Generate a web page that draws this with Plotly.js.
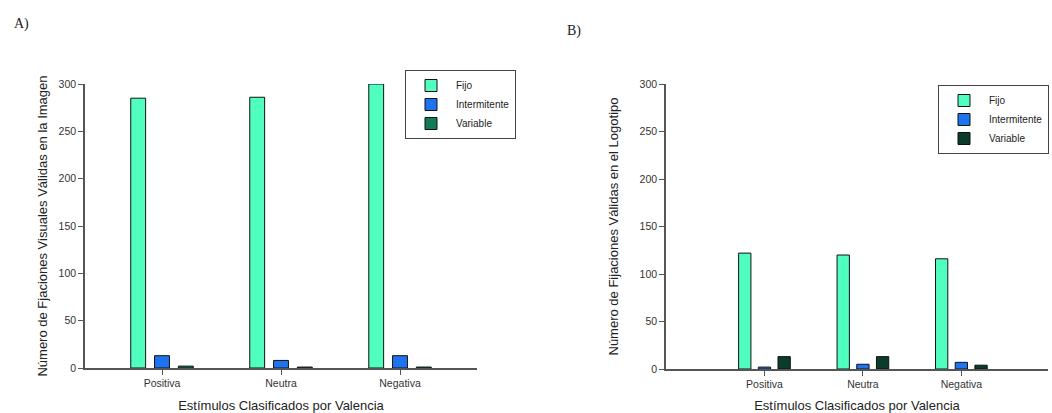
<!DOCTYPE html>
<html>
<head>
<meta charset="utf-8">
<script src="https://cdn.plot.ly/plotly-3.0.1.min.js"></script>
<style>html,body{margin:0;padding:0;background:#fff;}#chart{width:1052px;height:413px;}</style>
</head>
<body>
<div id="chart"></div>
<script>
const categories = ["Positiva", "Neutra", "Negativa"];
const seriesNames = ["Fijo", "Intermitente", "Variable"];
// Panel A: Número de Fjaciones Visuales Válidas en la Imagen
const imagenFijo = [285, 286, 300];
const imagenIntermitente = [13, 8, 13];
const imagenVariable = [2, 1, 1];
// Panel B: Número de Fijaciones Válidas en el Logotipo
const logotipoFijo = [122, 120, 116];
const logotipoIntermitente = [2, 5, 7];
const logotipoVariable = [13, 13, 4];
const yTicks = [0, 50, 100, 150, 200, 250, 300];

const font = "Arial, 'Liberation Sans', sans-serif";
const colA = ["#50FFC0", "#1E74F0", "#137A5C"];
const colB = ["#50FFC0", "#1E74F0", "#0B3B2C"];

function mk(name, y, color, xa, ya, legend) {
  return {
    type: "bar", name: name, x: categories, y: y,
    xaxis: xa, yaxis: ya, legend: legend,
    marker: {color: color, line: {color: "#111", width: 1}},
    hoverinfo: "x+y+name"
  };
}

const data = [
  mk(seriesNames[0], imagenFijo, colA[0], "x", "y", "legend"),
  mk(seriesNames[1], imagenIntermitente, colA[1], "x", "y", "legend"),
  mk(seriesNames[2], imagenVariable, colA[2], "x", "y", "legend"),
  mk(seriesNames[0], logotipoFijo, colB[0], "x2", "y2", "legend2"),
  mk(seriesNames[1], logotipoIntermitente, colB[1], "x2", "y2", "legend2"),
  mk(seriesNames[2], logotipoVariable, colB[2], "x2", "y2", "legend2")
];

const tickFont = {family: font, size: 10.5, color: "#333"};
const titleFont = {family: font, size: 13, color: "#222"};

function xax(domain, range, anchor) {
  return {
    domain: domain, range: range, anchor: anchor, type: "category",
    showline: true, linecolor: "#555", linewidth: 1.5,
    ticks: "outside", ticklen: 5, tickcolor: "#555", tickwidth: 1,
    showgrid: false, zeroline: false, tickfont: tickFont, automargin: false,
    title: {text: "Estímulos Clasificados por Valencia", font: titleFont, standoff: 13}
  };
}
function yax(domain, anchor, title, standoff) {
  return {
    domain: domain, range: [0, 300], anchor: anchor,
    tickmode: "array", tickvals: yTicks, ticktext: yTicks.map(String),
    showline: true, linecolor: "#555", linewidth: 1.5,
    ticks: "outside", ticklen: 5, tickcolor: "#555", tickwidth: 1,
    showgrid: false, zeroline: false, tickfont: tickFont, automargin: false,
    title: {text: title, font: titleFont, standoff: standoff}
  };
}

const legendStyle = (x, y) => ({
  x: x, y: y, xanchor: "left", yanchor: "top",
  bgcolor: "#fff", bordercolor: "#444", borderwidth: 1,
  font: {family: font, size: 10, color: "#222"},
  tracegroupgap: 0, itemwidth: 40
});

const layout = {
  width: 1052, height: 413,
  margin: {l: 0, r: 0, t: 0, b: 0},
  paper_bgcolor: "#fff", plot_bgcolor: "#fff",
  barmode: "group", bargap: 0.4, bargroupgap: 0.375,
  showlegend: true,
  xaxis: xax([85/1052, 477/1052], [-0.647, 2.647], "y"),
  yaxis: yax([1 - 368/413, 1 - 84/413], "x", "Número de Fjaciones Visuales Válidas en la Imagen", 8),
  xaxis2: xax([666/1052, 1048/1052], [-1.0, 2.88], "y2"),
  yaxis2: yax([1 - 369/413, 1 - 84/413], "x2", "Número de Fijaciones Válidas en el Logotipo", 18),
  legend: legendStyle(405/1052, 1 - 70/413),
  legend2: legendStyle(938/1052, 1 - 85/413),
  annotations: [
    {text: "A)", x: 12/1052, y: 1 - 24/413, xref: "paper", yref: "paper", xanchor: "left", yanchor: "middle",
     showarrow: false, font: {family: "'Liberation Serif', 'Times New Roman', serif", size: 14, color: "#222"}},
    {text: "B)", x: 565/1052, y: 1 - 31/413, xref: "paper", yref: "paper", xanchor: "left", yanchor: "middle",
     showarrow: false, font: {family: "'Liberation Serif', 'Times New Roman', serif", size: 14, color: "#222"}}
  ]
};

Plotly.newPlot("chart", data, layout, {displayModeBar: false, staticPlot: false});
</script>
</body>
</html>
